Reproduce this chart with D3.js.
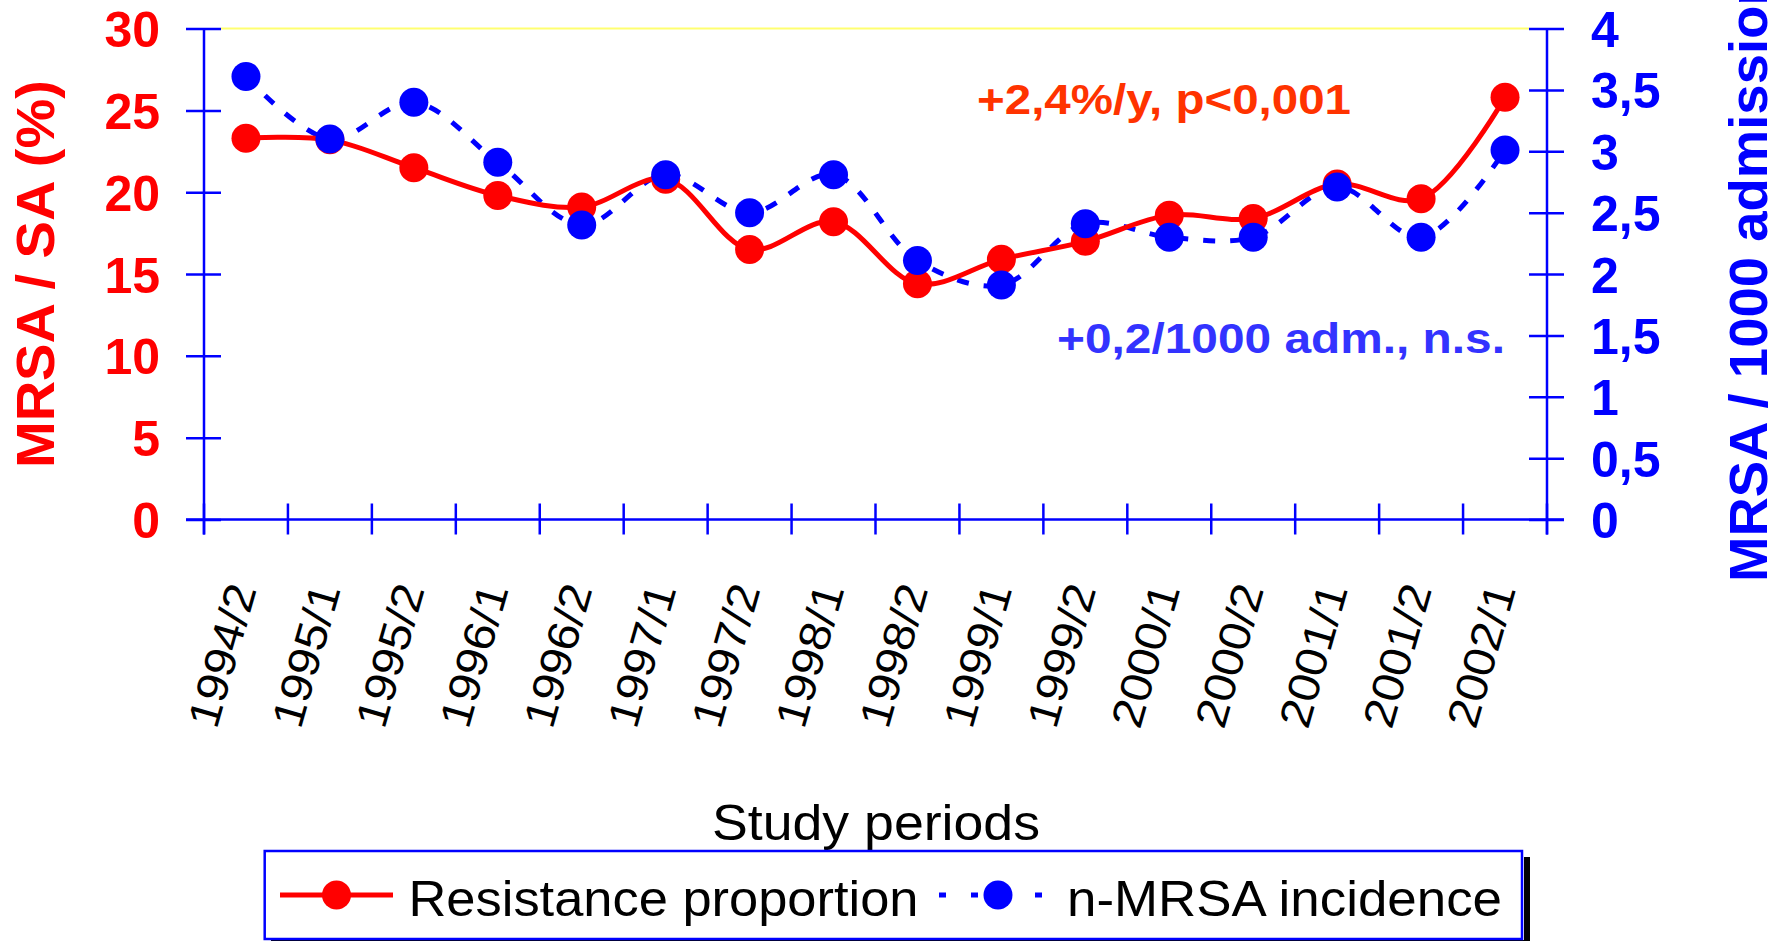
<!DOCTYPE html>
<html><head><meta charset="utf-8">
<script src="https://cdn.jsdelivr.net/npm/d3@7"></script>
<style>body{margin:0;background:#fff;overflow:hidden} svg{display:block}</style>
</head><body>
<script>
// ---- data ----
const periods = ["1994/2","1995/1","1995/2","1996/1","1996/2","1997/1","1997/2","1998/1",
                 "1998/2","1999/1","1999/2","2000/1","2000/2","2001/1","2001/2","2002/1"];
const resistance = [23.3, 23.2, 21.5, 19.8, 19.1, 20.8, 16.5, 18.2, 14.4, 15.9, 17.0, 18.6, 18.4, 20.5, 19.6, 25.8];
const incidence  = [3.61, 3.10, 3.40, 2.91, 2.40, 2.81, 2.50, 2.81, 2.11, 1.91, 2.41, 2.30, 2.30, 2.71, 2.30, 3.01];
const leftTicks = [0, 5, 10, 15, 20, 25, 30];
const rightTicks = [0, 0.5, 1, 1.5, 2, 2.5, 3, 3.5, 4];
const rightTickLabels = ["0", "0,5", "1", "1,5", "2", "2,5", "3", "3,5", "4"];
const seriesNames = ["Resistance proportion", "n-MRSA incidence"];

// ---- layout ----
const W = 1783, H = 941;
const FONT = "'Liberation Sans', Arial, sans-serif";
const RED = "#ff0000", BLUE = "#0000ff";
const x0 = 204, x1 = 1547, yTop = 28.6, yBot = 519.5;

const svg = d3.select("body").append("svg").attr("width", W).attr("height", H)
  .style("font-family", FONT);

const x = d3.scaleBand().domain(periods).range([x0, x1]);
const bw = x.bandwidth();
const cx = p => x(p) + bw / 2;
const yL = d3.scaleLinear().domain([0, 30]).range([yBot, yTop]);
const yR = d3.scaleLinear().domain([0, 4]).range([yBot, yTop]);

// top border (pale yellow)
svg.append("line").attr("x1", x0 + 17).attr("x2", x1 - 18).attr("y1", yTop).attr("y2", yTop)
  .attr("stroke", "#ffff70").attr("stroke-width", 2);

// left axis
const gL = svg.append("g").attr("transform", `translate(${x0},0)`)
  .call(d3.axisLeft(yL).tickValues(leftTicks).tickSize(0).tickPadding(0));
gL.select(".domain").remove();
gL.selectAll(".tick line").attr("x1", -18).attr("x2", 17).attr("stroke", BLUE).attr("stroke-width", 2.5);
gL.selectAll(".tick text").attr("x", -44).attr("dy", "0.36em")
  .attr("fill", RED).style("font-size", "50px").style("font-weight", "bold").style("font-family", FONT);
svg.append("line").attr("x1", x0).attr("x2", x0).attr("y1", yTop).attr("y2", yBot + 15)
  .attr("stroke", BLUE).attr("stroke-width", 2.5);

// right axis
const gR = svg.append("g").attr("transform", `translate(${x1},0)`)
  .call(d3.axisRight(yR).tickValues(rightTicks).tickFormat((d, i) => rightTickLabels[i]).tickSize(0).tickPadding(0));
gR.select(".domain").remove();
gR.selectAll(".tick line").attr("x1", -18).attr("x2", 17).attr("stroke", BLUE).attr("stroke-width", 2.5);
gR.selectAll(".tick text").attr("x", 44).attr("dy", "0.36em").attr("text-anchor", "start")
  .attr("fill", BLUE).style("font-size", "50px").style("font-weight", "bold").style("font-family", FONT);
svg.append("line").attr("x1", x1).attr("x2", x1).attr("y1", yTop).attr("y2", yBot + 15)
  .attr("stroke", BLUE).attr("stroke-width", 2.5);

// bottom axis
svg.append("line").attr("x1", x0 - 18).attr("x2", x1 + 17).attr("y1", yBot).attr("y2", yBot)
  .attr("stroke", BLUE).attr("stroke-width", 2.5);
const bounds = periods.map(p => x(p)).concat([x.range()[1]]);
svg.append("g").selectAll("line").data(bounds).join("line")
  .attr("x1", d => d).attr("x2", d => d).attr("y1", yBot - 16).attr("y2", yBot + 15)
  .attr("stroke", BLUE).attr("stroke-width", 2.5);
svg.append("g").selectAll("text").data(periods).join("text")
  .attr("transform", d => `translate(${cx(d) + 11},589) rotate(-74)`)
  .attr("text-anchor", "end")
  .attr("textLength", 147).attr("lengthAdjust", "spacingAndGlyphs")
  .style("font-size", "44px").attr("fill", "#000")
  .text(d => d);

// axis titles
svg.append("text").attr("transform", `translate(53.6,274) rotate(-90)`)
  .attr("text-anchor", "middle").attr("fill", RED)
  .style("font-size", "54px").style("font-weight", "bold")
  .attr("textLength", 388).attr("lengthAdjust", "spacingAndGlyphs")
  .text("MRSA / SA (%)");
svg.append("text").attr("transform", `translate(1766.7,582) rotate(-90)`)
  .attr("text-anchor", "start").attr("fill", BLUE)
  .style("font-size", "54px").style("font-weight", "bold")
  .attr("textLength", 640).attr("lengthAdjust", "spacingAndGlyphs")
  .text("MRSA / 1000 admissions");
svg.append("text").attr("x", 712).attr("y", 840).attr("fill", "#000")
  .style("font-size", "50px")
  .attr("textLength", 328).attr("lengthAdjust", "spacingAndGlyphs")
  .text("Study periods");

// annotations
svg.append("text").attr("x", 977).attr("y", 113.5).attr("fill", "#ff3300")
  .style("font-size", "42px").style("font-weight", "bold")
  .attr("textLength", 374).attr("lengthAdjust", "spacingAndGlyphs")
  .text("+2,4%/y, p<0,001");
svg.append("text").attr("x", 1057).attr("y", 353).attr("fill", "#3333ff")
  .style("font-size", "42px").style("font-weight", "bold")
  .attr("textLength", 448).attr("lengthAdjust", "spacingAndGlyphs")
  .text("+0,2/1000 adm., n.s.");

// series
const redData = periods.map((p, i) => ({p, v: resistance[i]}));
const blueData = periods.map((p, i) => ({p, v: incidence[i]}));
const lineL = d3.line().x(d => cx(d.p)).y(d => yL(d.v)).curve(d3.curveCatmullRom.alpha(0.5));
const lineR = d3.line().x(d => cx(d.p)).y(d => yR(d.v)).curve(d3.curveCatmullRom.alpha(0.5));

svg.append("path").datum(blueData).attr("d", lineR).attr("fill", "none")
  .attr("stroke", BLUE).attr("stroke-width", 5).attr("stroke-dasharray", "12,15");
svg.append("path").datum(redData).attr("d", lineL).attr("fill", "none")
  .attr("stroke", RED).attr("stroke-width", 5);
svg.append("g").selectAll("circle").data(redData).join("circle")
  .attr("cx", d => cx(d.p)).attr("cy", d => yL(d.v)).attr("r", 14.5).attr("fill", RED);
svg.append("g").selectAll("circle").data(blueData).join("circle")
  .attr("cx", d => cx(d.p)).attr("cy", d => yR(d.v)).attr("r", 14.5).attr("fill", BLUE);

// legend
svg.append("rect").attr("x", 1524).attr("y", 857).attr("width", 6).attr("height", 90).attr("fill", "#000");
svg.append("rect").attr("x", 271).attr("y", 940).attr("width", 1259).attr("height", 6).attr("fill", "#000");
svg.append("rect").attr("x", 264.7).attr("y", 851).attr("width", 1257.3).attr("height", 88)
  .attr("fill", "#fff").attr("stroke", BLUE).attr("stroke-width", 2.5);
const ly = 895;
svg.append("line").attr("x1", 280).attr("x2", 393).attr("y1", ly).attr("y2", ly)
  .attr("stroke", RED).attr("stroke-width", 5);
svg.append("circle").attr("cx", 336.5).attr("cy", ly).attr("r", 14.5).attr("fill", RED);
svg.append("text").attr("x", 408.5).attr("y", 916).attr("fill", "#000").style("font-size", "50px")
  .attr("textLength", 510).attr("lengthAdjust", "spacingAndGlyphs").text(seriesNames[0]);
svg.append("line").attr("x1", 939).attr("x2", 1057).attr("y1", ly).attr("y2", ly)
  .attr("stroke", BLUE).attr("stroke-width", 5).attr("stroke-dasharray", "7,25");
svg.append("circle").attr("cx", 998).attr("cy", ly).attr("r", 14.5).attr("fill", BLUE);
svg.append("text").attr("x", 1067).attr("y", 916).attr("fill", "#000").style("font-size", "50px")
  .attr("textLength", 435).attr("lengthAdjust", "spacingAndGlyphs").text(seriesNames[1]);
</script>
</body></html>
